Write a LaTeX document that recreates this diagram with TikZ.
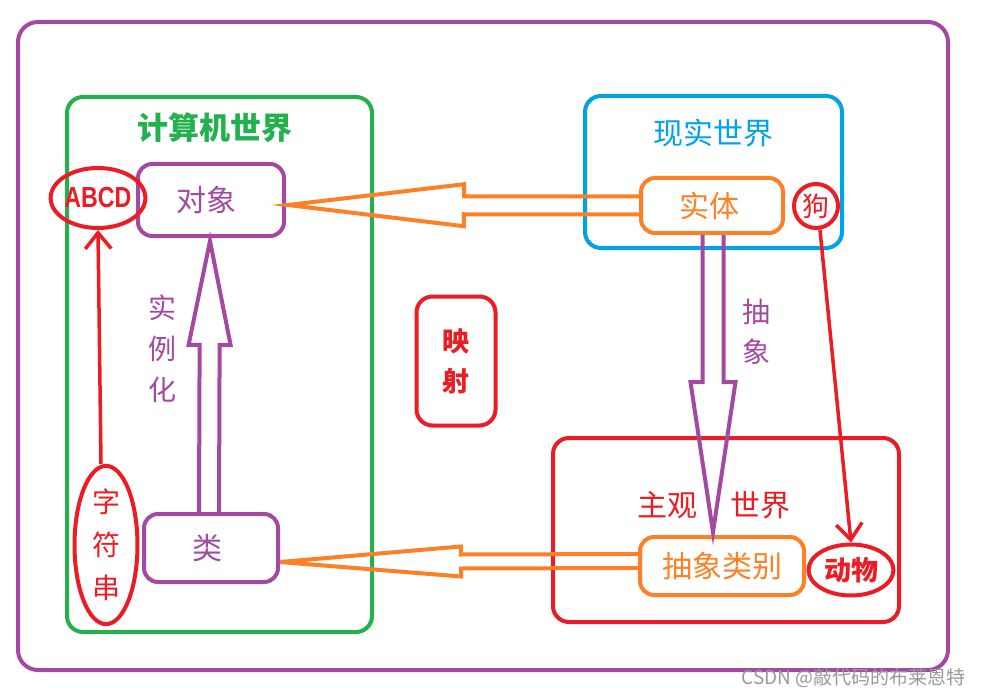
\documentclass[tikz,border=0pt]{standalone}
\usepackage{fontspec}
\setmainfont{Liberation Sans}
\newfontfamily\cjk{Noto Sans CJK SC}
\usetikzlibrary{calc,shapes.geometric,arrows.meta}
\definecolor{pur}{HTML}{A349A4}
\definecolor{grn}{HTML}{22B14C}
\definecolor{blu}{HTML}{00A2E8}
\definecolor{rd}{HTML}{ED1C24}
\definecolor{org}{HTML}{FF7F27}
\newcommand\harrow[6]{% colour, start, tip, shaft half width, head half width, head length
  \coordinate (hb) at ($(#3)!#6!(#2)$);
  \draw[#1, line width=4pt, line join=miter]
    ($(#2)!#4!90:(#3)$) -- ($(hb)!#4!90:(#3)$) -- ($(hb)!#5!90:(#3)$) -- (#3)
    -- ($(hb)!#5!-90:(#3)$) -- ($(hb)!#4!-90:(#3)$) -- ($(#2)!#4!-90:(#3)$);
}
\begin{document}
\begin{tikzpicture}[x=1pt,y=-1pt,
  frame/.style={draw=#1, line width=4pt, rounded corners=16pt, inner sep=0pt},
  box/.style={draw=#1, text=#1, line width=4pt, rounded corners=14pt, inner sep=0pt,
    font=\cjk\fontsize{30}{34}\selectfont},
  oval/.style={ellipse, draw=rd, text=rd, line width=4pt, inner sep=0pt},
  ttl/.style={text=#1, font=\cjk\fontsize{30}{34}\selectfont},
  vtxt/.style={text=#1, align=center, inner sep=0pt},
  redarr/.style={draw=rd, line width=3.5pt, -{Straight Barb[length=16pt,width=26pt]}}
]
\useasboundingbox (0,0) rectangle (982,695);
\fill[white] (0,0) rectangle (982,695);

% frames
\node[frame=pur, rounded corners=20pt, minimum width=930pt, minimum height=648pt] (outer) at (483,346) {};
\node[frame=grn, minimum width=305pt, minimum height=535pt] (comp) at (219.5,364.5) {};
\node[frame=blu, minimum width=257pt, minimum height=152pt] (real) at (713.5,172) {};
\node[frame=rd, minimum width=346pt, minimum height=184pt] (subj) at (726,530) {};

% titles
\node[ttl=grn, font=\cjk\bfseries\fontsize{31}{34}\selectfont] (t1) at (215,128) {计算机世界};
\node[ttl=blu] (t2) at (713,133) {现实世界};
\node[ttl=rd] (t3) at (714,505) {主观\hspace{1.1em}世界};

% boxes
\node[box=pur, minimum width=146pt, minimum height=72pt] (obj) at (211,200) {\hspace*{-10pt}对象};
\node[box=pur, minimum width=134pt, minimum height=68pt] (lei) at (211,548) {\hspace*{-8pt}类};
\node[box=org, minimum width=142pt, minimum height=55pt] (shiti) at (712,205.5) {\hspace*{-6pt}实体};
\node[box=org, minimum width=164pt, minimum height=58pt] (cxlb) at (722,566) {抽象类别};
\node[box=rd, rounded corners=16pt, minimum width=79pt, minimum height=129pt, align=center,
  font=\cjk\bfseries\fontsize{27}{40}\selectfont] (ys) at (456,361) {映\\射};

% ovals
\node[oval, minimum width=44pt, minimum height=44pt, font=\cjk\fontsize{27}{30}\selectfont] (gou) at (816,206) {狗};
\node[oval, minimum width=85pt, minimum height=51pt, font=\cjk\bfseries\fontsize{27}{30}\selectfont] (dongwu) at (851,570) {动物};
\node[oval, minimum width=81pt, minimum height=60pt] (abcd) at (98,198)
  {\bfseries\fontsize{29}{32}\selectfont\scalebox{0.8}[1]{ABCD}};
\node[oval, minimum width=63pt, minimum height=127pt, align=center,
  font=\cjk\fontsize{28}{43}\selectfont] (zfc) at (106,545) {字\\符\\串};

% vertical labels
\node[vtxt=pur, font=\cjk\fontsize{28}{41}\selectfont] (slh) at (162,349) {实\\例\\化};
\node[vtxt=pur, font=\cjk\fontsize{28}{40}\selectfont] (cx) at (756,332) {抽\\象};

% hollow arrows
\coordinate (a1s) at (shiti.west);
\coordinate (a1t) at ($(obj.east)+(2,5)$);
\harrow{org}{a1s}{a1t}{9pt}{21pt}{176pt}
\coordinate (a2s) at ($(cxlb.west)+(0,-5)$);
\coordinate (a2t) at ($(lei.east)+(0,14)$);
\harrow{org}{a2s}{a2t}{7pt}{15pt}{181pt}
\coordinate (a3s) at ($(lei.north)+(-2,0)$);
\coordinate (a3t) at ($(obj.south)+(-1,3)$);
\harrow{pur}{a3s}{a3t}{10pt}{21pt}{104pt}
\coordinate (a4s) at ($(shiti.south)+(1,0)$);
\coordinate (a4t) at ($(a4s |- cxlb.north)+(0,-3)$);
\harrow{pur}{a4s}{a4t}{10.5pt}{22.5pt}{150pt}

% red arrows
\draw[redarr] ($(zfc.north)+(-5,0)$) -- (abcd.south);
\draw[redarr] ($(gou.south)+(4,0)$) -- (dongwu.north);

% watermark
\node[anchor=east, text=black!40, font=\cjk\fontsize{19}{22}\selectfont] (wm) at (969,678) {CSDN @敲代码的布莱恩特};
\end{tikzpicture}
\end{document}
